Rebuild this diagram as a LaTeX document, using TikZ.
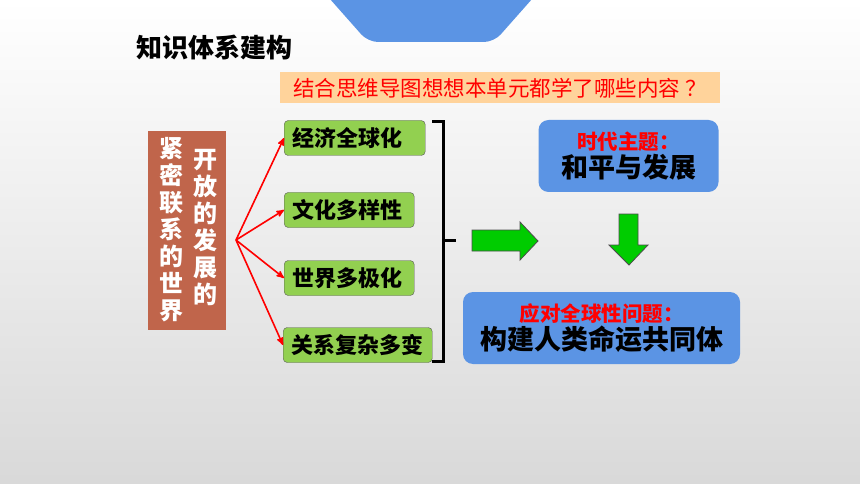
\documentclass[tikz,border=0pt]{standalone}
\usepackage{fontspec}
\setmainfont{Noto Sans CJK SC}
\usetikzlibrary{shapes,positioning,calc,arrows}
\definecolor{leaf}{HTML}{92D050}
\definecolor{sky}{HTML}{5B94E4}
\definecolor{brick}{HTML}{C0654B}
\definecolor{peach}{HTML}{FFD39B}
\definecolor{grass}{HTML}{00CC00}
\tikzset{
  topic/.style={draw=black!65, fill=leaf, rounded corners=4pt, anchor=west,
    minimum height=35pt, inner xsep=8pt, align=left, font=\fontsize{22}{24}\selectfont\bfseries},
  theme/.style={fill=sky, rounded corners=10pt, align=center, inner sep=0pt},
  link/.style={red, line width=1.6pt, ->, >=stealth'},
  vcol/.style={white, align=center, font=\fontsize{24}{27}\selectfont\bfseries, inner sep=0pt}
}
\begin{document}
\begin{tikzpicture}[x=1pt, y=-1pt]
			\useasboundingbox (0,0) rectangle (860,484);
			\shade[top color=white, bottom color=black!15] (0,0) rectangle (860,484);
			% top tab
			\fill[sky, rounded corners=10pt] (322,-10) -- (368,42) -- (494,42) -- (540,-10) -- cycle;
			\node [anchor=west, font=\fontsize{26}{28}\selectfont\bfseries] (title) at (133,48) {知识体系建构};
			\node [fill=peach, anchor=west, minimum width=440pt, minimum height=31pt, inner xsep=5pt, align=left,
				text=red, font=\fontsize{21.5}{24}\selectfont] (ask) at (280,88) {结合思维导图想想本单元都学了哪些内容\hspace{5pt}？};
			% left block
			\fill[brick] (148,131) rectangle (226,330);
			\node [vcol] (world) at (171,230) {紧\\密\\联\\系\\的\\世\\界};
			\node [vcol] (open) at (205,228) {开\\放\\的\\发\\展\\的};
			\coordinate (hub) at (236,240);
			\node [topic, text width=125pt] (g1) at (284,138) {经济全球化};
			\node [topic, text width=114pt] (g2) at (284,210) {文化多样性};
			\node [topic, text width=114pt] (g3) at (284,278) {世界多极化};
			\node [topic, text width=133pt] (g4) at (283,345) {关系复杂多变};
			\foreach \g in {g1,g2,g3,g4}
				\draw[link] (hub) -- (\g.west);
			% bracket
			\draw[line width=3pt] (432,122) -- (443,122) -- (443,361) -- (432,361);
			\draw[line width=3pt] (443,240) -- (456,240);
			% arrows
			\draw[fill=grass, draw=black!70, line width=0.8pt] (472,230) -- (520,230) -- (520,222) -- (538,241) -- (520,260) -- (520,251) -- (472,251) -- cycle;
			\draw[fill=grass, draw=black!70, line width=0.8pt] (619,214) -- (638,214) -- (638,245) -- (648,245) -- (629,265) -- (609,245) -- (619,245) -- cycle;
			% themes
			\node [theme, minimum width=180pt, minimum height=72pt] (peace) at (628.5,156)
				{{\color{red}\fontsize{20.5}{27}\selectfont\bfseries 时代主题：}\\[1pt]{\fontsize{27}{30}\selectfont\bfseries 和平与发展}};
			\node [theme, minimum width=277pt, minimum height=72pt] (fate) at (601.5,328)
				{{\color{red}\fontsize{20.5}{27}\selectfont\bfseries 应对全球性问题：}\\[1pt]{\fontsize{27}{30}\selectfont\bfseries 构建人类命运共同体}};
		\end{tikzpicture}
\end{document}
